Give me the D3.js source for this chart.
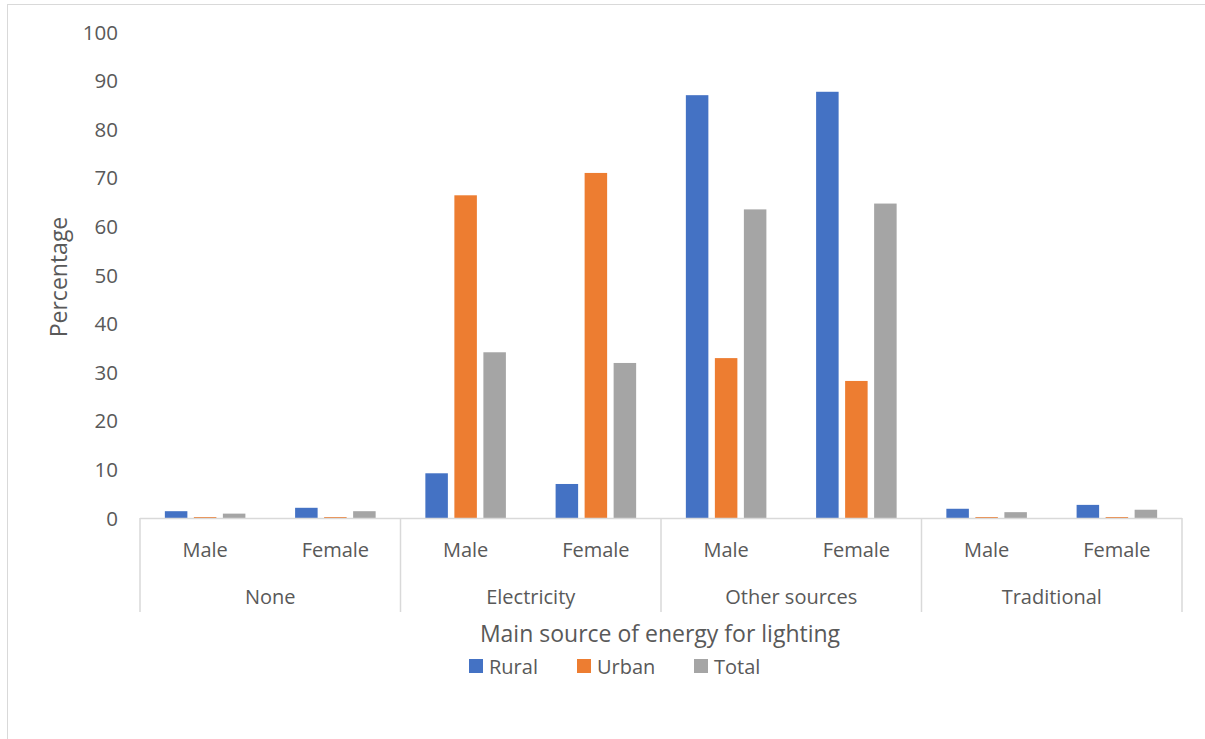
<!DOCTYPE html>
<html>
<head>
<meta charset="utf-8">
<script src="https://cdn.jsdelivr.net/npm/d3@7"></script>
<style>
  html, body { margin: 0; padding: 0; background: #fff; }
  svg { display: block; }
  text { font-family: "Open Sans", sans-serif; fill: #595959; }
</style>
</head>
<body>
<svg id="chart" width="1205" height="739"></svg>
<script>
const groups = ["None", "Electricity", "Other sources", "Traditional"];
const sexes = ["Male", "Female"];
const seriesNames = ["Rural", "Urban", "Total"];
const seriesColors = ["#4472C4", "#ED7D31", "#A5A5A5"];
// values per group, per sex: [Male, Female]
const rural = [[1.4, 2.1], [9.2, 7.0], [87.0, 87.7], [1.9, 2.7]];
const urban = [[0.2, 0.2], [66.4, 71.0], [32.9, 28.2], [0.2, 0.2]];
const total = [[0.9, 1.4], [34.1, 31.9], [63.5, 64.7], [1.2, 1.7]];
const yTicks = [0, 10, 20, 30, 40, 50, 60, 70, 80, 90, 100];

const seriesValues = [rural, urban, total];
const svg = d3.select("#chart");

// outer chart border
svg.append("rect").attr("x", 7.5).attr("y", 4.5).attr("width", 1250).attr("height", 800)
  .attr("fill", "none").attr("stroke", "#D9D9D9").attr("stroke-width", 1);

const plotLeft = 140, plotRight = 1182, plotTop = 32, plotBottom = 518;

const y = d3.scaleLinear().domain([0, 100]).range([plotBottom, plotTop]);
const x0 = d3.scaleBand().domain(groups).range([plotLeft, plotRight]);
const x1 = d3.scaleBand().domain(sexes).range([0, x0.bandwidth()]);
const x2 = d3.scaleBand().domain(seriesNames).range([0, x1.bandwidth()])
  .paddingInner(0.224).paddingOuter(0.857);

// bars
const data = [];
groups.forEach((g, gi) => sexes.forEach((s, si) => seriesNames.forEach((n, ni) => {
  data.push({ g, s, n, color: seriesColors[ni], v: seriesValues[ni][gi][si] });
})));
svg.append("g").selectAll("rect").data(data).join("rect")
  .attr("x", d => x0(d.g) + x1(d.s) + x2(d.n))
  .attr("y", d => y(d.v))
  .attr("width", x2.bandwidth())
  .attr("height", d => y(0) - y(d.v))
  .attr("fill", d => d.color);

// y axis labels (no line)
const yAxis = d3.axisLeft(y).tickValues(yTicks).tickSize(0).tickPadding(0);
const ya = svg.append("g").attr("transform", `translate(118,0)`).call(yAxis);
ya.select(".domain").remove();
ya.selectAll("text").style("font-family", '"Open Sans", sans-serif').style("font-size", "20.5px")
  .attr("fill", "#595959").attr("dy", "0.35em");

// x axis baseline and group separators
const axisCol = "#D9D9D9";
svg.append("line").attr("x1", plotLeft).attr("x2", plotRight).attr("y1", plotBottom + 0.5).attr("y2", plotBottom + 0.5)
  .attr("stroke", axisCol).attr("stroke-width", 1.5);
const sepX = groups.map(g => x0(g)).concat([plotRight]);
svg.append("g").selectAll("line").data(sepX).join("line")
  .attr("x1", d => d).attr("x2", d => d).attr("y1", plotBottom).attr("y2", 612)
  .attr("stroke", axisCol).attr("stroke-width", 1.5);

// sex labels
const sexLabels = [];
groups.forEach(g => sexes.forEach(s => sexLabels.push({ g, s })));
svg.append("g").selectAll("text").data(sexLabels).join("text")
  .attr("x", d => x0(d.g) + x1(d.s) + x1.bandwidth() / 2)
  .attr("y", 557).attr("text-anchor", "middle").style("font-size", "20px")
  .text(d => d.s);
// group labels
svg.append("g").selectAll("text").data(groups).join("text")
  .attr("x", d => x0(d) + x0.bandwidth() / 2)
  .attr("y", 604).attr("text-anchor", "middle").style("font-size", "20px")
  .text(d => d);

// axis titles
svg.append("text").attr("x", 660).attr("y", 642).attr("text-anchor", "middle")
  .style("font-size", "23px").text("Main source of energy for lighting");
svg.append("text").attr("transform", "translate(67,277) rotate(-90)").attr("text-anchor", "middle")
  .style("font-size", "23px").text("Percentage");

// legend
const legendX = [469, 577, 694];
const lg = svg.append("g").selectAll("g").data(seriesNames).join("g")
  .attr("transform", (d, i) => `translate(${legendX[i]},659)`);
lg.append("rect").attr("width", 14).attr("height", 14).attr("fill", (d, i) => seriesColors[i]);
lg.append("text").attr("x", 20).attr("y", 14.5).style("font-size", "20px").text(d => d);
</script>
</body>
</html>
